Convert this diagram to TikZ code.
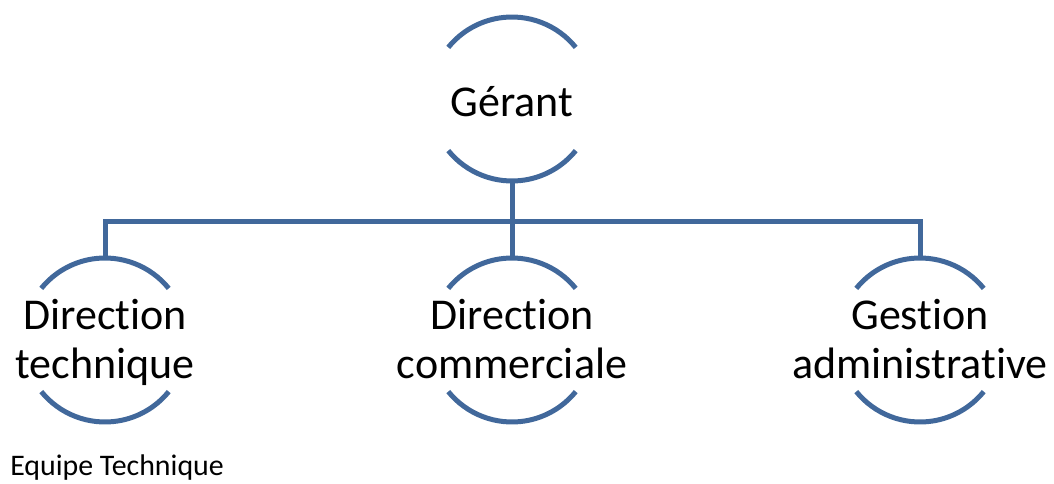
\documentclass[tikz,border=0pt]{standalone}
\usepackage{fontspec}
\setmainfont[Ligatures=CommonOff]{Carlito}
\definecolor{orgblue}{RGB}{65,104,155}
\begin{document}
\begin{tikzpicture}[x=0.75pt,y=0.75pt,
  unit/.style={circle,minimum size=123pt,inner sep=0pt,outer sep=0pt},
  caption/.style={inner sep=0pt,align=center,yshift=-2pt,font=\fontsize{33}{36.75}\selectfont},
  rim/.style={draw=orgblue,line width=3.75pt},
  link/.style={draw=orgblue,line width=3.75pt}]
\useasboundingbox (0,0) rectangle (1054,483);
% circles
\node[unit] (g)  at (512,384) {};
\node[unit] (dt) at (105,143) {};
\node[unit] (dc) at (512,143) {};
\node[unit] (ga) at (920,143) {};
% labels centred in the circles (phantom descender keeps the two-line labels level)
\node[caption] (gt)  at (g.center)  {Gérant};
\node[caption] (dtt) at (dt.center) {Direction\\technique\vphantom{q}};
\node[caption] (dct) at (dc.center) {Direction\\commerciale\vphantom{q}};
\node[caption] (gat) at (ga.center) {Gestion\\administrative\vphantom{q}};
% open rims: only the upper and lower arcs of each circle
\foreach \n in {g,dt,dc,ga}{
  \draw[rim] (\n.39) arc[start angle=39,end angle=141,radius=82];
  \draw[rim] (\n.219) arc[start angle=219,end angle=321,radius=82];
}
% hierarchy connectors
\coordinate (bar) at (512,262);
\draw[link] (g.south) -- (bar);
\draw[link] (dt.north) |- (bar) -| (ga.north);
\draw[link] (bar) -- (dc.north);
% caption under the first branch
\node[anchor=base west,inner sep=0pt,font=\fontsize{22.4}{26}\selectfont] (eq) at (10,8) {Equipe Technique};
\end{tikzpicture}
\end{document}
